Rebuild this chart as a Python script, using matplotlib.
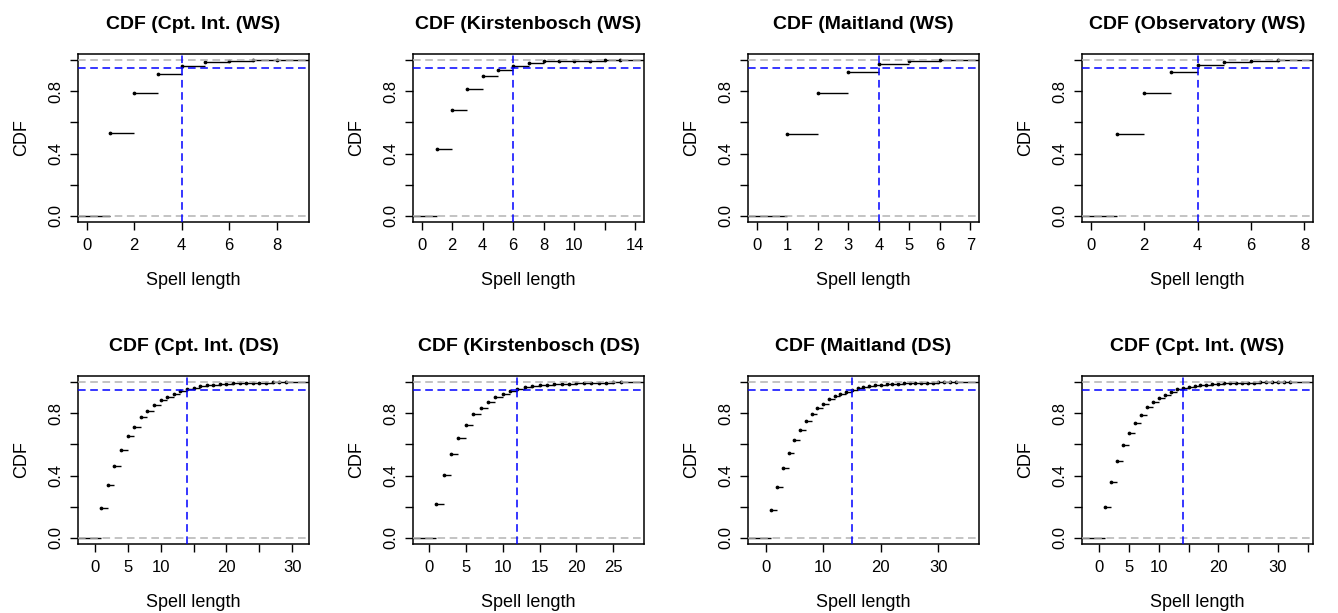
import numpy as np
import matplotlib
matplotlib.use("Agg")
import matplotlib.pyplot as plt

plt.rcParams['font.family'] = ['Liberation Sans', 'DejaVu Sans']

titles = ["CDF (Cpt. Int. (WS)", "CDF (Kirstenbosch (WS)", "CDF (Maitland (WS)",
          "CDF (Observatory (WS)", "CDF (Cpt. Int. (DS)", "CDF (Kirstenbosch (DS)",
          "CDF (Maitland (DS)", "CDF (Cpt. Int. (WS)"]

# spell lengths (knots) and empirical CDF values
knots_cpt_ws = [1, 2, 3, 4, 5, 6, 7, 8]
cdf_cpt_ws = [0.535, 0.792, 0.911, 0.966, 0.990, 0.997, 0.999, 1.0]

knots_kir_ws = [1, 2, 3, 4, 5, 6, 7, 8, 9, 10, 11, 12, 13]
cdf_kir_ws = [0.431, 0.682, 0.818, 0.896, 0.939, 0.966, 0.984, 0.992, 0.995,
              0.997, 0.998, 0.999, 1.0]

knots_mai_ws = [1, 2, 3, 4, 5, 6]
cdf_mai_ws = [0.524, 0.792, 0.922, 0.974, 0.992, 1.0]

knots_obs_ws = [1, 2, 3, 4, 5, 6, 7]
cdf_obs_ws = [0.524, 0.792, 0.922, 0.972, 0.991, 0.998, 1.0]

knots_cpt_ds = [1, 2, 3, 4, 5, 6, 7, 8, 9, 10, 11, 12, 13, 14, 15, 16, 17, 18,
                19, 20, 21, 22, 23, 24, 25, 26, 27, 28, 29]
cdf_cpt_ds = [0.189, 0.341, 0.461, 0.567, 0.652, 0.713, 0.774, 0.817, 0.854,
              0.883, 0.907, 0.926, 0.941, 0.954, 0.965, 0.974, 0.980, 0.985,
              0.988, 0.991, 0.993, 0.994, 0.995, 0.996, 0.997, 0.998, 0.9985,
              0.999, 1.0]

knots_kir_ds = [1, 2, 3, 4, 5, 6, 7, 8, 9, 10, 11, 12, 13, 14, 15, 16, 17, 18,
                19, 20, 21, 22, 23, 24, 25, 26]
cdf_kir_ds = [0.220, 0.402, 0.541, 0.643, 0.724, 0.793, 0.835, 0.870, 0.904,
              0.926, 0.943, 0.957, 0.967, 0.976, 0.983, 0.985, 0.987, 0.989,
              0.990, 0.992, 0.993, 0.995, 0.996, 0.998, 0.999, 1.0]

knots_mai_ds = [1, 2, 3, 4, 5, 6, 7, 8, 9, 10, 11, 12, 13, 14, 15, 16, 17, 18,
                19, 20, 21, 22, 23, 24, 25, 26, 27, 28, 29, 30, 31, 32, 33]
cdf_mai_ds = [0.178, 0.324, 0.446, 0.543, 0.626, 0.696, 0.748, 0.793, 0.835,
              0.863, 0.889, 0.909, 0.926, 0.939, 0.952, 0.961, 0.970, 0.976,
              0.983, 0.985, 0.987, 0.989, 0.991, 0.993, 0.994, 0.996, 0.997,
              0.9975, 0.998, 0.9985, 0.999, 0.9995, 1.0]

knots_cpt_ws2 = [1, 2, 3, 4, 5, 6, 7, 8, 9, 10, 11, 12, 13, 14, 15, 16, 17, 18,
                 19, 20, 21, 22, 23, 24, 25, 26, 27, 28, 29, 30, 31, 32]
cdf_cpt_ws2 = [0.199, 0.361, 0.491, 0.595, 0.671, 0.740, 0.790, 0.838, 0.872,
               0.898, 0.918, 0.939, 0.955, 0.961, 0.970, 0.976, 0.980, 0.985,
               0.989, 0.991, 0.993, 0.994, 0.996, 0.997, 0.9975, 0.998, 0.9985,
               0.999, 0.9993, 0.9995, 0.9998, 1.0]

# 95th percentile spell lengths
q95 = [4, 6, 4, 4, 14, 12, 15, 14]

knots_all = [knots_cpt_ws, knots_kir_ws, knots_mai_ws, knots_obs_ws,
             knots_cpt_ds, knots_kir_ds, knots_mai_ds, knots_cpt_ws2]
cdf_all = [cdf_cpt_ws, cdf_kir_ws, cdf_mai_ws, cdf_obs_ws,
           cdf_cpt_ds, cdf_kir_ds, cdf_mai_ds, cdf_cpt_ws2]

xticks_all = [[0, 2, 4, 6, 8], [0, 2, 4, 6, 8, 10, 12, 14], [0, 1, 2, 3, 4, 5, 6, 7],
              [0, 2, 4, 6, 8], [0, 5, 10, 15, 20, 25, 30], [0, 5, 10, 15, 20, 25],
              [0, 10, 20, 30], [0, 5, 10, 15, 20, 25, 30, 35]]
xlabels_all = [["0", "2", "4", "6", "8"],
               ["0", "2", "4", "6", "8", "10", "", "14"],
               ["0", "1", "2", "3", "4", "5", "6", "7"],
               ["0", "2", "4", "6", "8"],
               ["0", "5", "10", "", "20", "", "30"],
               ["0", "5", "10", "15", "20", "25"],
               ["0", "10", "20", "30"],
               ["0", "5", "10", "", "20", "", "30", ""]]

fig = plt.figure(figsize=(13.38, 6.13), dpi=100)
W, H = 1338, 613
lefts = [78, 413, 748, 1082]
tops = [54, 376]
aw, ah = 231, 168

for k in range(8):
    r, c = divmod(k, 4)
    ax = fig.add_axes([lefts[c] / W, 1 - (tops[r] + ah) / H, aw / W, ah / H])
    kn = np.array(knots_all[k], dtype=float)
    cd = np.array(cdf_all[k])

    # R style x range for step functions
    dr = max(0.08 * (kn.max() - kn.min()), np.median(np.diff(kn)))
    lo, hi = kn.min() - dr, kn.max() + dr
    ext = 0.04 * (hi - lo)
    ax.set_xlim(lo - ext, hi + ext)
    ax.set_ylim(-0.04, 1.04)

    left = np.concatenate([[lo - 3 * dr], kn])
    right = np.concatenate([kn, [hi + 3 * dr]])
    yv = np.concatenate([[0.0], cd])
    ax.hlines(yv, left, right, colors='black', lw=1.0, zorder=2)
    ax.plot(kn, cd, 'o', color='black', ms=1.7, zorder=3)

    ax.axhline(0, color='#b3b3b3', lw=1.1, ls=(0, (5, 3)), zorder=4)
    ax.axhline(1, color='#b3b3b3', lw=1.1, ls=(0, (5, 3)), zorder=4)
    ax.axhline(0.95, color='blue', lw=1.1, ls=(0, (5, 3)), zorder=5)
    ax.axvline(q95[k], color='blue', lw=1.1, ls=(0, (5, 3)), zorder=5)

    ax.set_xticks(xticks_all[k])
    ax.set_xticklabels(xlabels_all[k])
    ax.set_yticks([0, 0.2, 0.4, 0.6, 0.8, 1.0])
    ax.set_yticklabels(["0.0", "", "0.4", "", "0.8", ""], rotation=90, va='center')
    ax.tick_params(direction='out', length=5.5, width=1, labelsize=12, pad=6)
    ax.tick_params(axis='y', pad=5)
    for s in ax.spines.values():
        s.set_linewidth(1.1)

    ax.set_title(titles[k], fontsize=14, fontweight='bold', pad=18)
    ax.set_xlabel("Spell length", fontsize=13, labelpad=14)
    ax.set_ylabel("CDF", fontsize=13, labelpad=13)

fig.savefig("out.png", dpi=100)
